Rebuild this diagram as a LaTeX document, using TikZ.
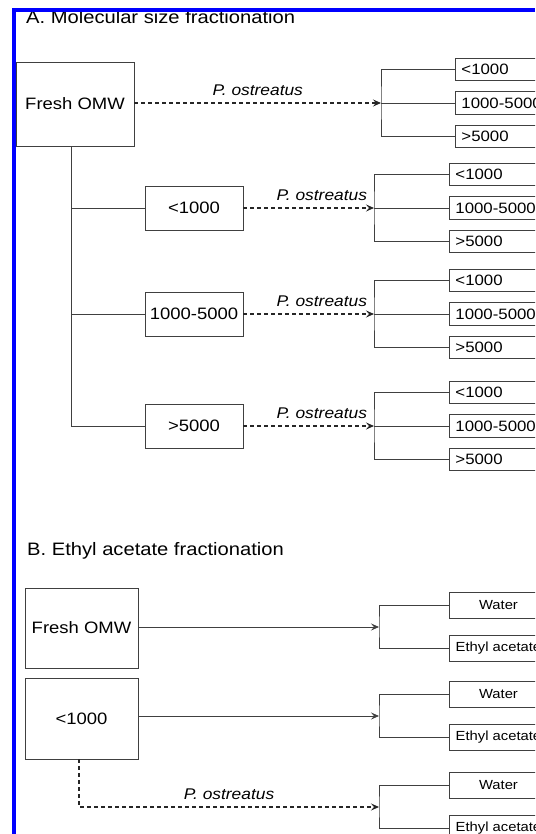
\documentclass[tikz,border=0pt]{standalone}
\usepackage{fontspec}
\setmainfont{Liberation Sans}[FakeStretch=1.12]
\usepackage{tikz}
\usetikzlibrary{positioning,arrows.meta}
\definecolor{frameblue}{RGB}{0,0,255}
\definecolor{linegray}{RGB}{64,64,64}

\begin{document}
\begin{tikzpicture}[x=1pt, y=-1pt, >={Stealth[length=8pt,width=7pt,inset=3pt]},
    box/.style={draw=linegray, line width=0.9pt, align=center, inner sep=1pt,
                font=\fontsize{16.5}{19}\selectfont},
    rbox/.style={draw=linegray, line width=0.9pt, anchor=west, text width=95pt,
                 inner xsep=6pt, inner ysep=0pt, minimum height=22.5pt, align=left,
                 font=\fontsize{15}{17}\selectfont},
    wbox/.style={draw=linegray, line width=0.9pt, anchor=west, minimum width=98pt,
                 minimum height=26pt, inner xsep=1pt, inner ysep=0pt,
                 font=\fontsize{13.2}{16}\selectfont},
    conn/.style={draw=linegray, line width=0.8pt},
    dasharr/.style={->, draw=black!85, line width=1.1pt, dash pattern=on 4pt off 3pt},
    lbl/.style={font=\itshape\fontsize{15.5}{18}\selectfont, above=3pt},
    title/.style={anchor=base west, inner sep=0pt, font=\fontsize{18}{21}\selectfont}]
  \useasboundingbox (0,0) rectangle (535,834);
  \clip (0,0) rectangle (535,834);

  % A. molecular size fractionation
  \node[title] (titleA) at (26,23.5) {A. Molecular size fractionation};
  \node[box, minimum width=118pt, minimum height=84pt] (omwA) at (75,104) {Fresh OMW};
  \node[box, minimum width=98pt, minimum height=44pt] (m1) at (194,208) {<1000};
  \node[box, minimum width=98pt, minimum height=44pt] (m2) at (194,314) {1000-5000};
  \node[box, minimum width=98pt, minimum height=44pt] (m3) at (194,426) {>5000};
  \coordinate (spine) at (71,0);
  \draw[conn] (omwA.south -| spine) |- (m3.west);
  \draw[conn] (m1.west -| spine) -- (m1.west);
  \draw[conn] (m2.west -| spine) -- (m2.west);

  \foreach \g/\xv/\xb/\yc in {a1/381/455/103, a2/374/449/208, a3/374/449/314, a4/374/449/426} {
    \coordinate (\g) at (\xv,\yc);
    \node[rbox] (\g-1) at (\xb,\yc-33.5) {<1000};
    \node[rbox] (\g-2) at (\xb,\yc) {1000-5000};
    \node[rbox] (\g-3) at (\xb,\yc+33.5) {>5000};
    \draw[conn] (\g-1.west) -| (\g) |- (\g-3.west);
    \draw[conn] (\g) -- (\g-2.west);
  }

  \draw[dasharr] (omwA.east |- a1) -- node[lbl]{P. ostreatus} (a1);
  \draw[dasharr] (m1) -- node[lbl, pos=0.6]{P. ostreatus} (a2);
  \draw[dasharr] (m2) -- node[lbl, pos=0.6]{P. ostreatus} (a3);
  \draw[dasharr] (m3) -- node[lbl, pos=0.6]{P. ostreatus} (a4);

  % B. ethyl acetate fractionation
  \node[title] (titleB) at (27,555) {B. Ethyl acetate fractionation};
  \node[box, minimum width=113pt, minimum height=80pt] (omwB) at (81.5,628) {Fresh OMW};
  \node[box, minimum width=113pt, minimum height=81pt] (lowB) at (81.5,718.5) {<1000};

  \foreach \g/\yc in {b1/627, b2/716, b3/807} {
    \coordinate (\g) at (379,\yc);
    \node[wbox] (\g-1) at (449,\yc-21.5) {Water};
    \node[wbox] (\g-2) at (449,\yc+21.5) {Ethyl acetate};
    \draw[conn] (\g-1.west) -| (\g) |- (\g-2.west);
  }

  \draw[conn, ->] (omwB.east |- b1) -- (b1);
  \draw[conn, ->] (lowB.east |- b2) -- (b2);
  \draw[dasharr] ([xshift=-2.5pt]lowB.south) |- node[lbl, pos=0.75]{P. ostreatus} (b3);

  % blue frame
  \fill[frameblue] (12,8) rectangle (535,12.5);
  \fill[frameblue] (12,8) rectangle (16,834);
\end{tikzpicture}
\end{document}
